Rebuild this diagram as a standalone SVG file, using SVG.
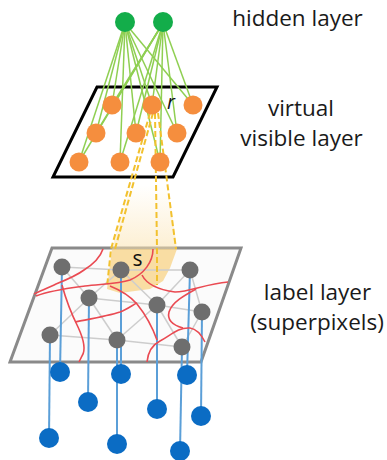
<svg xmlns="http://www.w3.org/2000/svg" width="387" height="460" viewBox="0 0 387 460">
<defs>
<linearGradient id="cone" x1="0" y1="185" x2="0" y2="250" gradientUnits="userSpaceOnUse">
<stop offset="0" stop-color="#fbe2ad" stop-opacity="0"/>
<stop offset="1" stop-color="#fbe2ad" stop-opacity="0.55"/>
</linearGradient>
<style>
.lbl{font-family:"Open Sans","Liberation Sans",sans-serif;font-size:22.5px;fill:#1a1a1a;text-anchor:middle}
.hid{fill:#13ad4a}
.vis{fill:#f58e3e}
.sp{fill:#6e6e6e}
.bl{fill:#0b6cc4}
.gl{stroke:#8fcf52;stroke-width:1.5;fill:none}
.ge{stroke:#cdcdcd;stroke-width:1.5;fill:none}
.bv{stroke:#5b9fd8;stroke-width:2;fill:none}
.dash{stroke:#f2c12e;stroke-width:2;stroke-dasharray:6,3;fill:none}
.red{stroke:#ea4a52;stroke-width:1.6;fill:none}
</style>
</defs>
<rect width="387" height="460" fill="#ffffff"/>
<g id="label-layer-plane">
<polygon points="52,248 241,248 201,362 10,362" fill="#fbfbfb" stroke="#8a8a8a" stroke-width="3" stroke-linejoin="miter"/>
</g>
<g id="virtual-visible-layer-plane">
<polygon points="97,87 217,87 173,177 53,177" fill="#ffffff" stroke="#000000" stroke-width="3"/>
</g>
<g id="receptive-field">
<polygon points="150,113 158,113 177,249 112,249" fill="url(#cone)"/>
<polygon points="112,249 177,249 170,268 163,281 150,289 120,293 107,289" fill="#f8d07e" fill-opacity="0.7"/>
</g>
<g id="connectors">
<g id="gray-edges">
<line class="ge" x1="62" y1="267" x2="121" y2="270"/>
<line class="ge" x1="121" y1="270" x2="190" y2="270"/>
<line class="ge" x1="62" y1="267" x2="89" y2="298"/>
<line class="ge" x1="121" y1="270" x2="89" y2="298"/>
<line class="ge" x1="121" y1="270" x2="157" y2="305"/>
<line class="ge" x1="190" y1="270" x2="157" y2="305"/>
<line class="ge" x1="190" y1="270" x2="202" y2="312"/>
<line class="ge" x1="89" y1="298" x2="157" y2="305"/>
<line class="ge" x1="89" y1="298" x2="50" y2="335"/>
<line class="ge" x1="89" y1="298" x2="117" y2="340"/>
<line class="ge" x1="157" y1="305" x2="117" y2="340"/>
<line class="ge" x1="157" y1="305" x2="202" y2="312"/>
<line class="ge" x1="157" y1="305" x2="182" y2="347"/>
<line class="ge" x1="202" y1="312" x2="182" y2="347"/>
<line class="ge" x1="50" y1="335" x2="117" y2="340"/>
<line class="ge" x1="117" y1="340" x2="182" y2="347"/>
</g>
<g id="blue-links">
<line class="bv" x1="62" y1="267" x2="60" y2="372"/>
<line class="bv" x1="121" y1="270" x2="121" y2="374"/>
<line class="bv" x1="190" y1="270" x2="187" y2="375"/>
<line class="bv" x1="89" y1="298" x2="88" y2="402"/>
<line class="bv" x1="157" y1="305" x2="157" y2="409"/>
<line class="bv" x1="202" y1="312" x2="201" y2="416"/>
<line class="bv" x1="50" y1="335" x2="49" y2="438"/>
<line class="bv" x1="117" y1="340" x2="117" y2="444"/>
<line class="bv" x1="182" y1="347" x2="180" y2="451"/>
</g>
<g id="green-links">
<line class="gl" x1="125" y1="23" x2="112" y2="105"/>
<line class="gl" x1="125" y1="23" x2="152" y2="105"/>
<line class="gl" x1="125" y1="23" x2="193" y2="105"/>
<line class="gl" x1="125" y1="23" x2="96" y2="133"/>
<line class="gl" x1="125" y1="23" x2="136" y2="133"/>
<line class="gl" x1="125" y1="23" x2="177" y2="133"/>
<line class="gl" x1="125" y1="23" x2="79" y2="162"/>
<line class="gl" x1="125" y1="23" x2="120" y2="162"/>
<line class="gl" x1="125" y1="23" x2="160" y2="162"/>
<line class="gl" x1="163" y1="23" x2="112" y2="105"/>
<line class="gl" x1="163" y1="23" x2="152" y2="105"/>
<line class="gl" x1="163" y1="23" x2="193" y2="105"/>
<line class="gl" x1="163" y1="23" x2="96" y2="133"/>
<line class="gl" x1="163" y1="23" x2="136" y2="133"/>
<line class="gl" x1="163" y1="23" x2="177" y2="133"/>
<line class="gl" x1="163" y1="23" x2="79" y2="162"/>
<line class="gl" x1="163" y1="23" x2="120" y2="162"/>
<line class="gl" x1="163" y1="23" x2="160" y2="162"/>
</g>
<g id="dashed-links">
<polyline class="dash" points="150,113 111,249 107,287"/>
<line class="dash" x1="153" y1="113" x2="115" y2="249"/>
<polyline class="dash" points="155,113 157,249 157,285"/>
<line class="dash" x1="158" y1="113" x2="176" y2="249"/>
</g>
</g>
<g id="superpixel-boundaries">
<path class="red" d="M103,249 C100,258 92,265 84,270 C76,276 66,280 56,284 C48,288 40,291 34,294"/>
<path class="red" d="M153,249 C153,262 144,274 130,280 C118,284 100,284 85,286 C70,288 52,290 36,296"/>
<path class="red" d="M62,285 C66,300 72,315 78,327 C84,340 86,350 82,356 L79,362"/>
<path class="red" d="M110,286 C120,290 130,296 137,304 C145,314 152,326 157,340"/>
<path class="red" d="M147,362 C148,352 152,345 160,341 C170,336 178,327 190,328 C197,329 202,336 205,342"/>
<path class="red" d="M142,275 C147,285 160,290 175,292 C190,292 205,284 228,282"/>
<path class="red" d="M196,289 C185,295 172,302 169,312 C167,320 172,325 183,328"/>
<path class="red" d="M75,322 C90,319 108,316 120,312 C128,309 134,304 137,303"/>
</g>
<g id="label-nodes">
<circle id="g1" class="sp" cx="62" cy="267" r="8.5"/>
<circle id="g2" class="sp" cx="121" cy="270" r="8.5"/>
<circle id="g3" class="sp" cx="190" cy="270" r="8.5"/>
<circle id="g4" class="sp" cx="89" cy="298" r="8.5"/>
<circle id="g5" class="sp" cx="157" cy="305" r="8.5"/>
<circle id="g6" class="sp" cx="202" cy="312" r="8.5"/>
<circle id="g7" class="sp" cx="50" cy="335" r="8.5"/>
<circle id="g8" class="sp" cx="117" cy="340" r="8.5"/>
<circle id="g9" class="sp" cx="182" cy="347" r="8.5"/>
</g>
<g id="observed-nodes">
<circle id="b1" class="bl" cx="60" cy="372" r="10"/>
<circle id="b2" class="bl" cx="121" cy="374" r="10"/>
<circle id="b3" class="bl" cx="187" cy="375" r="10"/>
<circle id="b4" class="bl" cx="88" cy="402" r="10"/>
<circle id="b5" class="bl" cx="157" cy="409" r="10"/>
<circle id="b6" class="bl" cx="201" cy="416" r="10"/>
<circle id="b7" class="bl" cx="49" cy="438" r="10"/>
<circle id="b8" class="bl" cx="117" cy="444" r="10"/>
<circle id="b9" class="bl" cx="180" cy="451" r="10"/>
</g>
<g id="visible-nodes">
<circle id="v1" class="vis" cx="112" cy="105" r="9.5"/>
<circle id="v2" class="vis" cx="152" cy="105" r="9.5"/>
<circle id="v3" class="vis" cx="193" cy="105" r="9.5"/>
<circle id="v4" class="vis" cx="96" cy="133" r="9.5"/>
<circle id="v5" class="vis" cx="136" cy="133" r="9.5"/>
<circle id="v6" class="vis" cx="177" cy="133" r="9.5"/>
<circle id="v7" class="vis" cx="79" cy="162" r="9.5"/>
<circle id="v8" class="vis" cx="120" cy="162" r="9.5"/>
<circle id="v9" class="vis" cx="160" cy="162" r="9.5"/>
</g>
<g id="hidden-nodes">
<circle id="h1" class="hid" cx="125" cy="22" r="10"/>
<circle id="h2" class="hid" cx="163" cy="22" r="10"/>
</g>
<g id="labels">
<text x="171" y="109" font-family="'Open Sans','Liberation Sans',sans-serif" font-size="20" font-style="italic" fill="#111" text-anchor="middle">r</text>
<text x="137.5" y="266" font-family="'Open Sans','Liberation Sans',sans-serif" font-size="21" fill="#111" text-anchor="middle">s</text>
<text class="lbl" x="297.5" y="26">hidden layer</text>
<text class="lbl" x="301" y="116">virtual</text>
<text class="lbl" x="301.5" y="146">visible layer</text>
<text class="lbl" x="317.5" y="300">label layer</text>
<text class="lbl" x="317" y="330">(superpixels)</text>
</g>
</svg>
